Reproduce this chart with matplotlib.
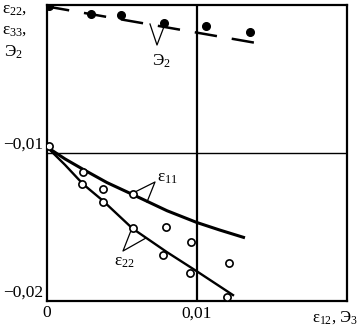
import matplotlib
matplotlib.use("Agg")
import matplotlib.pyplot as plt

plt.rcParams['font.family'] = ['Liberation Serif', 'DejaVu Serif']
plt.rcParams['mathtext.fontset'] = 'custom'
plt.rcParams['mathtext.rm'] = 'Liberation Serif'
plt.rcParams['mathtext.it'] = 'Liberation Serif'

# Э2 (filled dots) and its dashed trend
e2_x = [0.0001, 0.0029, 0.0049, 0.0078, 0.0106, 0.0135]
e2_y = [-0.0001, -0.0006, -0.0007, -0.0012, -0.0014, -0.0018]
e2_line_x = [0.0, 0.0147]
e2_line_y = [-0.0001, -0.0027]

# open circles (ε11 and ε22 measurements)
c_x = [0.0001, 0.0024, 0.0037, 0.0057, 0.0079, 0.0096, 0.0121,
       0.0023, 0.0037, 0.0057, 0.0077, 0.0095, 0.0120]
c_y = [-0.0095, -0.0113, -0.0124, -0.0128, -0.0150, -0.0160, -0.0174,
       -0.0121, -0.0133, -0.0151, -0.0169, -0.0181, -0.0197]

# fitted curves
e11_x = [0.0, 0.0012, 0.0024, 0.0040, 0.0057, 0.0080, 0.0100, 0.0115, 0.0131]
e11_y = [-0.0096, -0.0104, -0.0111, -0.0120, -0.0128, -0.0139, -0.0147, -0.0152, -0.0157]
e22_x = [0.0, 0.0012, 0.0024, 0.0037, 0.0057, 0.0080, 0.0100, 0.0124]
e22_y = [-0.0096, -0.0108, -0.0121, -0.0132, -0.0151, -0.0167, -0.0180, -0.0196]

xticks = [0, 0.01]
xtick_labels = ['0', '0,01']
yticks = [-0.01, -0.02]
ytick_labels = ['\u22120,01', '\u22120,02']

FS = 12.5

fig = plt.figure(figsize=(3.6, 3.27), dpi=100)
ax = fig.add_axes([47/360, 1-301/327, 300/360, 296/327])
ax.set_xlim(0, 0.02)
ax.set_ylim(-0.02, 0)

for s in ax.spines.values():
    s.set_linewidth(1.6)
    s.set_color('black')

ax.axvline(0.01, color='black', lw=1.6, zorder=1)
ax.axhline(-0.01, color='black', lw=1.0, zorder=1)

ax.plot(e2_line_x, e2_line_y, color='black', lw=1.8, dashes=(9, 6), zorder=2)
ax.plot(e2_x, e2_y, 'o', color='black', ms=5.5, zorder=3)

ax.plot(e11_x, e11_y, color='black', lw=2.2, zorder=2)
ax.plot(e22_x, e22_y, color='black', lw=1.7, zorder=2)
ax.plot(c_x, c_y, 'o', mfc='white', mec='black', mew=1.2, ms=5.2, zorder=3)

ax.set_xticks(xticks)
ax.set_xticklabels(xtick_labels, fontsize=FS)
ax.set_yticks(yticks)
ax.set_yticklabels(ytick_labels, fontsize=FS)
ax.tick_params(length=0, pad=3)
for lab in ax.get_yticklabels():
    lab.set_va('bottom')

# leader lines and labels
def px(x, y):
    return ((x - 47) / 15000, -(y - 5) / 14800)

lbl_kw = dict(color='black', lw=0.9, zorder=2)
# ε11
a = px(155, 182); b = px(133, 193); c = px(147, 202)
ax.plot([b[0], a[0], c[0]], [b[1], a[1], c[1]], **lbl_kw)
t = px(157, 178)
ax.text(t[0], t[1], '\u03b5$_{11}$', fontsize=FS, ha='left', va='center')
# ε22
a = px(123, 251); b = px(132, 228); c = px(146, 238)
ax.plot([b[0], a[0], c[0]], [b[1], a[1], c[1]], **lbl_kw)
t = px(124, 262)
ax.text(t[0], t[1], '\u03b5$_{22}$', fontsize=FS, ha='center', va='center')
# Э2
a = px(157, 45); b = px(150, 24); c = px(165, 24)
ax.plot([b[0], a[0], c[0]], [b[1], a[1], c[1]], **lbl_kw)
t = px(161, 61)
ax.text(t[0], t[1], '\u042d$_2$', fontsize=FS, ha='center', va='center')

# y-axis label stack
fig.text(2/360, 1-9/327, '\u03b5$_{22}$,', fontsize=FS, ha='left', va='center')
fig.text(2/360, 1-30/327, '\u03b5$_{33}$,', fontsize=FS, ha='left', va='center')
fig.text(4/360, 1-52/327, '\u042d$_2$', fontsize=FS, ha='left', va='center')

# x-axis label at lower right
fig.text(358/360, 1-318/327, '\u03b5$_{12}$, \u042d$_3$', fontsize=12, ha='right', va='center')

fig.savefig('out.png', dpi=100)
